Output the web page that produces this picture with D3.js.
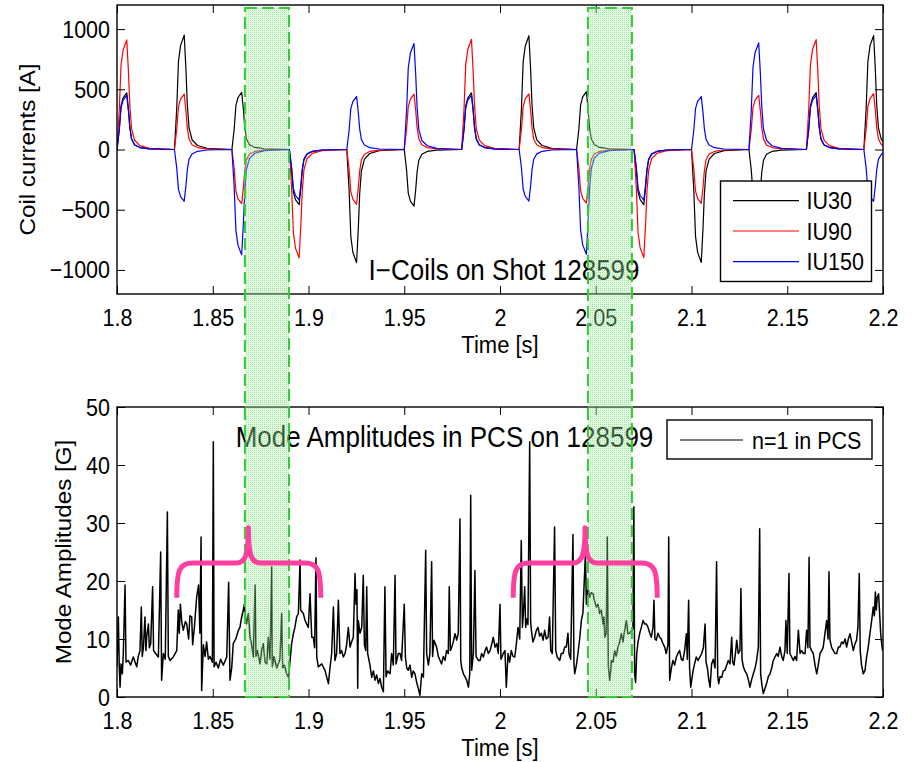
<!DOCTYPE html>
<html>
<head>
<meta charset="utf-8">
<script src="https://cdn.jsdelivr.net/npm/d3@7"></script>
<style>
  body { margin: 0; background: #fff; }
  svg { display: block; }
</style>
</head>
<body>
<svg id="chart" width="915" height="762"></svg>
<script>
// ---- data ----
var xTicks = [1.8, 1.85, 1.9, 1.95, 2, 2.05, 2.1, 2.15, 2.2];
var xTickLabels = ['1.8', '1.85', '1.9', '1.95', '2', '2.05', '2.1', '2.15', '2.2'];
var coilTicks = [-1000, -500, 0, 500, 1000];
var coilTickLabels = ['\u22121000', '\u2212500', '0', '500', '1000'];
var modeTicks = [0, 10, 20, 30, 40, 50];
var modeTickLabels = ['0', '10', '20', '30', '40', '50'];

var coilNames = ['IU30', 'IU90', 'IU150'];
var coilColors = ['#000000', '#ff0000', '#0000ff'];

// sample times of the coil current traces (one line per pulse)
var coilTime = [
  1.8000, 1.8012, 1.8021, 1.8032, 1.8051, 1.8060, 1.8067, 1.8076, 1.8092, 1.8120, 1.8170,
  1.8300, 1.8312, 1.8321, 1.8332, 1.8351, 1.8360, 1.8367, 1.8376, 1.8392, 1.8420, 1.8470,
  1.8600, 1.8612, 1.8621, 1.8632, 1.8651, 1.8660, 1.8667, 1.8676, 1.8692, 1.8720, 1.8770,
  1.8900, 1.8912, 1.8921, 1.8932, 1.8951, 1.8960, 1.8967, 1.8976, 1.8992, 1.9020, 1.9070,
  1.9200, 1.9212, 1.9221, 1.9232, 1.9251, 1.9260, 1.9267, 1.9276, 1.9292, 1.9320, 1.9370,
  1.9500, 1.9512, 1.9521, 1.9532, 1.9551, 1.9560, 1.9567, 1.9576, 1.9592, 1.9620, 1.9670,
  1.9800, 1.9812, 1.9821, 1.9832, 1.9851, 1.9860, 1.9867, 1.9876, 1.9892, 1.9920, 1.9970,
  2.0100, 2.0112, 2.0121, 2.0132, 2.0151, 2.0160, 2.0167, 2.0176, 2.0192, 2.0220, 2.0270,
  2.0400, 2.0412, 2.0421, 2.0432, 2.0451, 2.0460, 2.0467, 2.0476, 2.0492, 2.0520, 2.0570,
  2.0700, 2.0712, 2.0721, 2.0732, 2.0751, 2.0760, 2.0767, 2.0776, 2.0792, 2.0820, 2.0870,
  2.1000, 2.1012, 2.1021, 2.1032, 2.1051, 2.1060, 2.1067, 2.1076, 2.1092, 2.1120, 2.1170,
  2.1300, 2.1312, 2.1321, 2.1332, 2.1351, 2.1360, 2.1367, 2.1376, 2.1392, 2.1420, 2.1470,
  2.1600, 2.1612, 2.1621, 2.1632, 2.1651, 2.1660, 2.1667, 2.1676, 2.1692, 2.1720, 2.1770,
  2.1900, 2.1912, 2.1921, 2.1932, 2.1951, 2.1960, 2.1967, 2.1976, 2.1992, 2.2020, 2.2070
];

var iu30 = [
  0, 169, 362, 428, 470, 329, 188, 89, 40, 16, 5,
  0, 342, 732, 865, 950, 665, 380, 181, 81, 33, 10,
  0, 171, 366, 432, 475, 333, 190, 90, 40, 17, 5,
  0, -165, -353, -417, -458, -321, -183, -87, -39, -16, -5,
  0, -338, -724, -855, -940, -658, -376, -179, -80, -33, -9,
  0, -169, -362, -428, -470, -329, -188, -89, -40, -16, -5,
  0, 169, 362, 428, 470, 329, 188, 89, 40, 16, 5,
  0, 340, 728, 860, 945, 662, 378, 180, 80, 33, 9,
  0, 173, 370, 437, 480, 336, 192, 91, 41, 17, 5,
  0, -165, -353, -417, -458, -321, -183, -87, -39, -16, -5,
  0, -338, -722, -854, -938, -657, -375, -178, -80, -33, -9,
  0, -169, -362, -428, -470, -329, -188, -89, -40, -16, -5,
  0, 170, 363, 430, 472, 330, 189, 90, 40, 17, 5,
  0, 341, 728, 861, 946, 662, 378, 180, 80, 33, 9
];

var iu90 = [
  0, 328, 701, 828, 910, 637, 364, 173, 77, 32, 9,
  0, 166, 354, 419, 460, 322, 184, 87, 39, 16, 5,
  0, -162, -347, -410, -450, -315, -180, -86, -38, -16, -5,
  0, -324, -693, -819, -900, -630, -360, -171, -77, -32, -9,
  0, -164, -350, -414, -455, -319, -182, -86, -39, -16, -5,
  0, 166, 354, 419, 460, 322, 184, 87, 39, 16, 5,
  0, 329, 705, 833, 915, 641, 366, 174, 78, 32, 9,
  0, 166, 356, 420, 462, 323, 185, 88, 39, 16, 5,
  0, -160, -343, -405, -445, -312, -178, -85, -38, -16, -4,
  0, -323, -691, -817, -898, -629, -359, -171, -76, -31, -9,
  0, -161, -345, -408, -448, -314, -179, -85, -38, -16, -4,
  0, 162, 347, 410, 450, 315, 180, 86, 38, 16, 5,
  0, 328, 702, 830, 912, 638, 365, 173, 78, 32, 9,
  0, 167, 357, 422, 464, 325, 186, 88, 39, 16, 5
];

var iu150 = [
  0, 162, 347, 410, 450, 315, 180, 86, 38, 16, 5,
  0, -155, -331, -391, -430, -301, -172, -82, -37, -15, -4,
  0, -315, -674, -796, -875, -613, -350, -166, -74, -31, -9,
  0, -151, -323, -382, -420, -294, -168, -80, -36, -15, -4,
  0, 158, 339, 400, 440, 308, 176, 84, 37, 15, 4,
  0, 317, 678, 801, 880, 616, 352, 167, 75, 31, 9,
  0, 162, 347, 410, 450, 315, 180, 86, 38, 16, 5,
  0, -154, -330, -389, -428, -300, -171, -81, -36, -15, -4,
  0, -313, -670, -792, -870, -609, -348, -165, -74, -30, -9,
  0, -151, -323, -382, -420, -294, -168, -80, -36, -15, -4,
  0, 158, 339, 400, 440, 308, 176, 84, 37, 15, 4,
  0, 319, 681, 805, 885, 620, 354, 168, 75, 31, 9,
  0, 162, 347, 410, 450, 315, 180, 86, 38, 16, 5,
  0, -155, -331, -391, -430, -301, -172, -82, -37, -15, -4
];

// n=1 mode amplitude in PCS, [time s, amplitude G]
var modeTrace = [
  [1.8000, 5.2], [1.8007, 13.8], [1.8012, 5], [1.8016, 1.7], [1.8021, 5.7], [1.8028, 4], [1.8033, 7.5],
  [1.8042, 19.3], [1.8047, 6], [1.8059, 6.3], [1.8071, 5.5], [1.8085, 6.9], [1.8103, 5.2], [1.8111, 7],
  [1.8120, 8], [1.8127, 15.5], [1.8132, 7], [1.8138, 8.6], [1.8146, 13.8], [1.8151, 8], [1.8155, 10.3],
  [1.8164, 12.6], [1.8169, 8.5], [1.8176, 9.2], [1.8186, 19], [1.8191, 8], [1.8202, 7.5], [1.8216, 6.9],
  [1.8228, 25], [1.8233, 2.9], [1.8242, 7.5], [1.8252, 6.5], [1.8263, 31.9], [1.8268, 7], [1.8277, 6.3],
  [1.8294, 6.9], [1.8312, 8], [1.8320, 15], [1.8325, 11], [1.8331, 16], [1.8338, 13], [1.8346, 11.5],
  [1.8357, 13], [1.8364, 12.6], [1.8374, 10], [1.8381, 14], [1.8390, 13.8], [1.8395, 9], [1.8404, 12],
  [1.8416, 17.2], [1.8426, 19.3], [1.8433, 11], [1.8439, 27.6], [1.8442, 1.1], [1.8451, 9], [1.8460, 7],
  [1.8468, 9.5], [1.8477, 6.5], [1.8486, 7], [1.8498, 6], [1.8503, 44], [1.8507, 5.2], [1.8517, 6],
  [1.8529, 5], [1.8541, 6.5], [1.8555, 5.5], [1.8573, 6.9], [1.8583, 19.8], [1.8590, 2.9], [1.8599, 5],
  [1.8607, 9.2], [1.8620, 10], [1.8634, 11.5], [1.8642, 12], [1.8651, 13.8], [1.8660, 15], [1.8665, 16],
  [1.8672, 13.5], [1.8677, 12.6], [1.8686, 14.4], [1.8695, 10.3], [1.8703, 9], [1.8712, 6.9], [1.8721, 19.3],
  [1.8726, 7], [1.8733, 8], [1.8747, 5.7], [1.8755, 8], [1.8764, 9.2], [1.8773, 6], [1.8782, 5.7],
  [1.8790, 10.3], [1.8799, 6.5], [1.8808, 22.4], [1.8811, 5.2], [1.8820, 7], [1.8825, 6.3], [1.8834, 5],
  [1.8842, 5.7], [1.8851, 6.5], [1.8860, 14.4], [1.8865, 5], [1.8874, 5.5], [1.8886, 4], [1.8896, 3.4],
  [1.8903, 6], [1.8912, 9.2], [1.8921, 10.9], [1.8929, 12], [1.8938, 13.8], [1.8947, 14.4], [1.8956, 23.6],
  [1.8959, 15], [1.8973, 14.4], [1.8982, 13.2], [1.8990, 12.6], [1.8999, 12], [1.9008, 17.8], [1.9017, 10.3],
  [1.9025, 10.3], [1.9032, 8.5], [1.9039, 24], [1.9043, 6.9], [1.9051, 5.2],
  [1.9069, 5.7], [1.9086, 4.6], [1.9104, 2.3], [1.9112, 5], [1.9121, 7.5], [1.9130, 15.5], [1.9138, 6.3],
  [1.9147, 7.5], [1.9156, 16.7], [1.9164, 7.5], [1.9173, 8], [1.9182, 6.9], [1.9191, 7.5], [1.9199, 9],
  [1.9208, 12], [1.9217, 8.6], [1.9225, 9.5], [1.9234, 10.3], [1.9243, 21.3], [1.9248, 16], [1.9253, 18.5],
  [1.9257, 1.5], [1.9260, 13.2], [1.9269, 11], [1.9278, 12], [1.9286, 21], [1.9292, 9], [1.9299, 8],
  [1.9304, 19], [1.9309, 7.5], [1.9321, 5.5], [1.9330, 3.4], [1.9339, 4.5], [1.9347, 2.9], [1.9356, 3.8],
  [1.9365, 2.3], [1.9373, 3.2], [1.9382, 1.7], [1.9391, 0.9], [1.9399, 19], [1.9405, 3.5], [1.9413, 4.5],
  [1.9426, 4], [1.9434, 7.5], [1.9443, 5.5], [1.9452, 21], [1.9457, 5.7], [1.9469, 7.5], [1.9478, 7.5],
  [1.9486, 6.3], [1.9500, 16], [1.9506, 6.9], [1.9513, 5], [1.9521, 4.6], [1.9530, 5.5], [1.9539, 3.4],
  [1.9547, 4.5], [1.9556, 4], [1.9565, 2.5], [1.9574, 1.4], [1.9582, 0.3], [1.9591, 4], [1.9600, 3.4],
  [1.9612, 25.3], [1.9617, 7.5], [1.9626, 5.5], [1.9634, 7.5], [1.9643, 23.3], [1.9648, 7], [1.9655, 9.8],
  [1.9669, 8.6], [1.9678, 7], [1.9687, 6.3], [1.9695, 5.7], [1.9704, 7], [1.9713, 6.3], [1.9721, 8],
  [1.9730, 7.5], [1.9735, 19], [1.9741, 8], [1.9748, 8.6], [1.9756, 9.5], [1.9765, 10.9], [1.9774, 9.8],
  [1.9782, 11], [1.9791, 30.7], [1.9795, 6.3], [1.9800, 5], [1.9809, 4], [1.9817, 3.5], [1.9826, 2.9],
  [1.9835, 1.7], [1.9842, 4], [1.9847, 34.8], [1.9852, 4.6], [1.9861, 7.5], [1.9869, 21.8], [1.9875, 7],
  [1.9887, 6.3], [1.9896, 6.3], [1.9904, 7.5], [1.9913, 6.9], [1.9922, 8], [1.9930, 8.6], [1.9939, 7.5],
  [1.9948, 8], [1.9956, 9], [1.9965, 10.3], [1.9974, 8.6], [1.9983, 9.2], [1.9991, 7.5], [2.0000, 16],
  [2.0005, 6.5], [2.0017, 7.5], [2.0026, 8],
  [2.0033, 1.7], [2.0042, 7.5], [2.0050, 6], [2.0059, 8], [2.0068, 7], [2.0077, 6.9], [2.0085, 9],
  [2.0094, 12], [2.0103, 10], [2.0111, 27], [2.0117, 12], [2.0122, 14.4], [2.0129, 19], [2.0134, 12],
  [2.0139, 13.5], [2.0146, 12.5], [2.0155, 44], [2.0160, 13], [2.0164, 11.5], [2.0172, 9.5], [2.0181, 10.3],
  [2.0190, 11.5], [2.0198, 12], [2.0207, 10.5], [2.0216, 11], [2.0225, 9.8], [2.0233, 11.5], [2.0242, 10],
  [2.0251, 10.3], [2.0259, 13.8], [2.0265, 8], [2.0273, 7.5], [2.0285, 29.3], [2.0291, 8], [2.0299, 6.9],
  [2.0312, 6.3], [2.0320, 7.5], [2.0329, 7.5], [2.0338, 8.6], [2.0346, 8.6], [2.0355, 11], [2.0360, 7.5],
  [2.0369, 6.5], [2.0381, 28], [2.0386, 6], [2.0390, 4], [2.0399, 5.5], [2.0407, 7.5], [2.0416, 10],
  [2.0425, 13.2], [2.0433, 14.5], [2.0446, 24.7], [2.0451, 16], [2.0459, 19], [2.0468, 17.2], [2.0477, 18],
  [2.0486, 17.8], [2.0494, 16.5], [2.0503, 15.5], [2.0512, 16], [2.0520, 14.4], [2.0529, 15], [2.0538, 12.6],
  [2.0543, 13.8], [2.0547, 10.3], [2.0555, 11], [2.0560, 27.6], [2.0566, 5.2], [2.0573, 2.9], [2.0578, 4.5],
  [2.0581, 6.3], [2.0590, 6], [2.0599, 8], [2.0607, 7], [2.0616, 8.6], [2.0625, 9.5], [2.0633, 10.9],
  [2.0642, 9.5], [2.0651, 11.5], [2.0660, 13.2], [2.0668, 10.9], [2.0677, 11], [2.0686, 11.4], [2.0694, 11.8],
  [2.0699, 32.8], [2.0703, 4], [2.0708, 2.5], [2.0714, 7.5], [2.0721, 9.5], [2.0729, 10.9], [2.0738, 12],
  [2.0747, 13.2], [2.0755, 12.6], [2.0764, 12.6], [2.0773, 12], [2.0782, 11], [2.0790, 10.3], [2.0799, 12],
  [2.0804, 16.7], [2.0809, 10], [2.0816, 9.8], [2.0825, 11], [2.0834, 10.3], [2.0842, 10], [2.0851, 9.2],
  [2.0860, 8.6], [2.0868, 7.5], [2.0877, 9], [2.0881, 27.6], [2.0886, 2.9], [2.0895, 5], [2.0903, 6.3],
  [2.0912, 5.5], [2.0921, 6.9], [2.0929, 7.5], [2.0938, 8], [2.0947, 6.5], [2.0955, 6.3], [2.0964, 8],
  [2.0973, 10.9], [2.0978, 6.5], [2.0985, 16.7], [2.0990, 5], [2.0996, 1.7], [2.1008, 4.5], [2.1016, 5.7],
  [2.1025, 6.9], [2.1034, 6.3],
  [2.1044, 6.9], [2.1053, 7.5], [2.1062, 8.5], [2.1071, 12.6], [2.1076, 6], [2.1083, 5], [2.1090, 3],
  [2.1097, 1.7], [2.1105, 5.7], [2.1114, 6.5], [2.1123, 5], [2.1131, 23.3], [2.1137, 3.5], [2.1142, 2.3],
  [2.1149, 3.5], [2.1158, 3.4], [2.1166, 4.5], [2.1175, 4.6], [2.1184, 5.5], [2.1192, 6.3], [2.1201, 5.7],
  [2.1210, 10.3], [2.1215, 6], [2.1222, 5.5], [2.1231, 8], [2.1236, 9.8], [2.1244, 7.5], [2.1253, 8],
  [2.1258, 18.7], [2.1264, 6.5], [2.1271, 5.2], [2.1279, 4.5], [2.1288, 4], [2.1297, 3], [2.1305, 1.7],
  [2.1314, 3], [2.1323, 4], [2.1332, 5], [2.1340, 6.3], [2.1349, 8.6], [2.1356, 29], [2.1361, 4],
  [2.1368, 2], [2.1375, 0.6], [2.1384, 1.5], [2.1392, 2.3], [2.1401, 3.5], [2.1410, 4], [2.1419, 5],
  [2.1427, 6.3], [2.1436, 6.9], [2.1445, 7.5], [2.1453, 7], [2.1462, 8.6], [2.1471, 7], [2.1479, 6.3],
  [2.1488, 8], [2.1493, 13.2], [2.1500, 7.5], [2.1509, 21.3], [2.1514, 7.5], [2.1523, 6.9], [2.1532, 6.3],
  [2.1540, 7], [2.1549, 6.3], [2.1558, 11.5], [2.1567, 7.5], [2.1575, 8], [2.1584, 7.5], [2.1593, 7.5],
  [2.1601, 11.5], [2.1608, 8.5], [2.1614, 24.1], [2.1619, 8.6], [2.1627, 8], [2.1636, 7.5], [2.1645, 5.5],
  [2.1654, 4], [2.1662, 5.5], [2.1671, 7.5], [2.1680, 8], [2.1688, 8.6], [2.1697, 11], [2.1706, 13.2],
  [2.1713, 10], [2.1718, 21.6], [2.1723, 9.8], [2.1732, 8.5], [2.1741, 8], [2.1749, 7.5], [2.1758, 7.5],
  [2.1767, 8.6], [2.1775, 8.6], [2.1784, 9.5], [2.1793, 9.2], [2.1802, 10], [2.1810, 8.6], [2.1819, 10],
  [2.1828, 10.9], [2.1836, 9.5], [2.1845, 8], [2.1854, 9.2], [2.1862, 9.8], [2.1869, 12], [2.1876, 21.3],
  [2.1881, 8], [2.1888, 5.5], [2.1897, 4], [2.1906, 4.6], [2.1915, 7], [2.1923, 8.6], [2.1932, 11],
  [2.1941, 13.2], [2.1949, 15.5], [2.1955, 14], [2.1960, 18.1], [2.1965, 15], [2.1970, 17.2], [2.1977, 17.8],
  [2.1983, 14], [2.1988, 10.9], [2.1993, 9.2], [2.1998, 8]
];

// highlighted time windows (green boxes) and the two braces
var highlightWindows = [[1.8668, 1.8898], [2.0459, 2.0689]];
var braceSpans = [[1.8312, 1.9064], [2.0069, 2.0821]];
var bracePeaks = [1.8686, 2.0444];
var braceLevels = [17.1, 23.1, 29.2]; // ends, arms, tip (G)

// ---- layout ----
var stretch = 1.1; // text in the original is a bit tall
var fontFam = '"Liberation Sans", Arial, Helvetica, sans-serif';
var left = 117, W = 766;
var top1 = 5, h1 = 289;
var top2 = 407, h2 = 290;

var svg = d3.select('#chart');

var x = d3.scaleLinear().domain([1.8, 2.2]).range([0, W]);
var yCoil = d3.scaleLinear().domain([-1200, 1200]).range([h1, 0]);
var yMode = d3.scaleLinear().domain([0, 50]).range([h2, 0]);

var defs = svg.append('defs');
defs.append('clipPath').attr('id', 'clip1').append('rect').attr('width', W).attr('height', h1);
defs.append('clipPath').attr('id', 'clip2').append('rect').attr('width', W).attr('height', h2);

// stippled green fill like the original patch
var pat = defs.append('pattern').attr('id', 'stipple')
  .attr('patternUnits', 'userSpaceOnUse').attr('width', 2).attr('height', 2);
pat.append('rect').attr('width', 2).attr('height', 2).attr('fill', '#a8eea8').attr('fill-opacity', 0.32);
pat.append('rect').attr('width', 1).attr('height', 1).attr('fill', '#5cd65c').attr('fill-opacity', 0.5);

function addText(parent, px, py, str, size, anchor, rot) {
  return parent.append('text')
    .attr('transform', 'translate(' + px + ',' + py + ') scale(1,' + stretch + ')' + (rot ? ' rotate(-90)' : ''))
    .attr('text-anchor', anchor || 'middle')
    .style('font-family', fontFam)
    .style('font-size', size + 'px')
    .attr('fill', '#000')
    .text(str);
}

function drawAxes(g, y, h, yTicks, yLabels) {
  var bx = g.append('g').attr('transform', 'translate(0,' + h + ')')
    .call(d3.axisBottom(x).tickValues(xTicks).tickSizeInner(-8).tickSizeOuter(0)
      .tickFormat(function(d, i) { return xTickLabels[i]; }));
  bx.selectAll('.tick text').attr('y', 32.5 / stretch).attr('dy', 0)
    .attr('transform', 'scale(1,' + stretch + ')');

  g.append('g').call(d3.axisTop(x).tickValues(xTicks).tickSizeInner(-8).tickSizeOuter(0).tickFormat(''));

  var ly = g.append('g')
    .call(d3.axisLeft(y).tickValues(yTicks).tickSizeInner(-8).tickSizeOuter(0).tickPadding(7)
      .tickFormat(function(d, i) { return yLabels[i]; }));
  ly.selectAll('.tick text').attr('y', 8 / stretch).attr('dy', 0)
    .attr('transform', 'scale(1,' + stretch + ')');

  g.append('g').attr('transform', 'translate(' + W + ',0)')
    .call(d3.axisRight(y).tickValues(yTicks).tickSizeInner(-8).tickSizeOuter(0).tickFormat(''));

  g.selectAll('.domain').remove();
  g.selectAll('.tick line').attr('stroke', '#000').attr('stroke-width', 1);
  g.selectAll('.tick text').style('font-family', fontFam).style('font-size', '21.5px').attr('fill', '#000');

  g.append('rect').attr('width', W).attr('height', h)
    .attr('fill', 'none').attr('stroke', '#000').attr('stroke-width', 1.4);
}

// ---- top panel: coil currents ----
var g1 = svg.append('g').attr('transform', 'translate(' + left + ',' + top1 + ')');
var coilSeries = [iu30, iu90, iu150];

var coilLine = d3.line()
  .x(function(d, i) { return x(coilTime[i]); })
  .y(function(d) { return yCoil(d); });

g1.append('g').attr('clip-path', 'url(#clip1)')
  .selectAll('path').data(coilSeries).enter().append('path')
  .attr('d', coilLine)
  .attr('fill', 'none')
  .attr('stroke', function(d, i) { return coilColors[i]; })
  .attr('stroke-width', 1.2)
  .attr('stroke-linejoin', 'round');

drawAxes(g1, yCoil, h1, coilTicks, coilTickLabels);

// legend
var leg1 = svg.append('g');
leg1.append('rect').attr('x', 720.5).attr('y', 181).attr('width', 151).attr('height', 100.5)
  .attr('fill', '#fff').attr('stroke', '#000').attr('stroke-width', 1.4);
var legRows = [200.7, 231, 261.7];
coilNames.forEach(function(name, i) {
  leg1.append('line').attr('x1', 733).attr('x2', 799).attr('y1', legRows[i]).attr('y2', legRows[i])
    .attr('stroke', coilColors[i]).attr('stroke-width', 1.2);
  addText(leg1, 806.5, legRows[i] + 8.5, name, 21.5, 'start');
});

addText(svg, 504, 280, 'I\u2212Coils on Shot 128599', 26, 'middle');
addText(svg, 500, 294 + 59, 'Time [s]', 22, 'middle');
addText(svg, 35, top1 + h1 / 2, 'Coil currents [A]', 22, 'middle', true);

// ---- bottom panel: mode amplitude ----
var g2 = svg.append('g').attr('transform', 'translate(' + left + ',' + top2 + ')');

var modeLine = d3.line()
  .x(function(d) { return x(d[0]); })
  .y(function(d) { return yMode(d[1]); });

g2.append('g').attr('clip-path', 'url(#clip2)')
  .append('path').datum(modeTrace)
  .attr('d', modeLine)
  .attr('fill', 'none')
  .attr('stroke', '#000')
  .attr('stroke-width', 1.5)
  .attr('stroke-linejoin', 'round');

drawAxes(g2, yMode, h2, modeTicks, modeTickLabels);

var leg2 = svg.append('g');
leg2.append('rect').attr('x', 667).attr('y', 420).attr('width', 205).attr('height', 39)
  .attr('fill', '#fff').attr('stroke', '#000').attr('stroke-width', 1.4);
leg2.append('line').attr('x1', 680).attr('x2', 743).attr('y1', 440).attr('y2', 440)
  .attr('stroke', '#000').attr('stroke-width', 1.2);
addText(leg2, 752, 449, 'n=1 in PCS', 21.5, 'start');

addText(svg, 444.5, 447, 'Mode Amplitudes in PCS on 128599', 26, 'middle');
addText(svg, 500, top2 + h2 + 58.5, 'Time [s]', 22, 'middle');
addText(svg, 70.5, top2 + h2 / 2, 'Mode Amplitudes [G]', 22, 'middle', true);

// ---- green highlight boxes across both panels ----
var boxTop = top1 + yCoil(1175);
var boxBottom = top2 + yMode(0);
svg.append('g').selectAll('rect').data(highlightWindows).enter().append('rect')
  .attr('x', function(d) { return left + x(d[0]); })
  .attr('y', boxTop)
  .attr('width', function(d) { return x(d[1]) - x(d[0]); })
  .attr('height', boxBottom - boxTop)
  .attr('fill', 'url(#stipple)')
  .attr('stroke', '#33cc33')
  .attr('stroke-width', 2)
  .attr('stroke-dasharray', '12,5');

// ---- braces ----
var bracePath = function(span, peak) {
  var xl = left + x(span[0]), xr = left + x(span[1]), xp = left + x(peak);
  var yb = top2 + yMode(braceLevels[0]), ya = top2 + yMode(braceLevels[1]), yp = top2 + yMode(braceLevels[2]);
  return 'M' + xl + ',' + yb +
    'C' + xl + ',' + (ya + 6) + ' ' + (xl + 3) + ',' + ya + ' ' + (xl + 16) + ',' + ya +
    'L' + (xp - 12) + ',' + ya +
    'C' + (xp - 3) + ',' + ya + ' ' + xp + ',' + (ya - 8) + ' ' + xp + ',' + yp +
    'C' + xp + ',' + (ya - 8) + ' ' + (xp + 3) + ',' + ya + ' ' + (xp + 12) + ',' + ya +
    'L' + (xr - 16) + ',' + ya +
    'C' + (xr - 3) + ',' + ya + ' ' + xr + ',' + (ya + 6) + ' ' + xr + ',' + yb;
};

svg.append('g').selectAll('path').data(braceSpans).enter().append('path')
  .attr('d', function(d, i) { return bracePath(d, bracePeaks[i]); })
  .attr('fill', 'none')
  .attr('stroke', '#ff3fa0')
  .attr('stroke-width', 5)
  .attr('stroke-linejoin', 'round');
</script>
</body>
</html>
